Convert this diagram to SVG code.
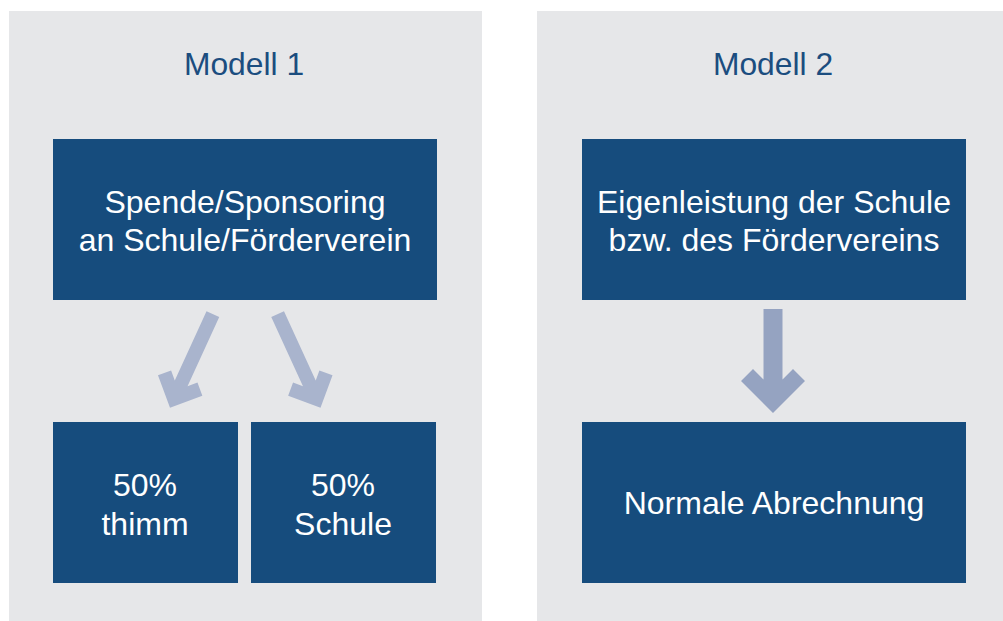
<svg xmlns="http://www.w3.org/2000/svg" width="1003" height="621" viewBox="0 0 1003 621">
<style>
.panel{fill:#e6e7e9}
.box{fill:#164c7d}
.title{font-family:"Liberation Sans",Arial,sans-serif;font-size:31.8px;fill:#1b4d7f;text-anchor:middle}
.lbl{font-family:"Liberation Sans",Arial,sans-serif;font-size:32px;fill:#ffffff;text-anchor:middle}
.arrowL{fill:#a9b4cd}
.arrowD{fill:#95a3c1}
</style>
<defs>
<polygon id="diag" points="-7,-103 7,-103 7,-26.8 14.5,-34.3 24.4,-24.4 0,0 -24.4,-24.4 -14.5,-34.3 -7,-26.8"/>
</defs>
<rect width="1003" height="621" fill="#ffffff"/>
<g id="panel1">
<rect class="panel" x="9" y="11" width="473" height="610"/>
<text class="title" x="244" y="75">Modell 1</text>
</g>
<g id="panel2">
<rect class="panel" x="537" y="11" width="466" height="610"/>
<text class="title" x="773" y="75">Modell 2</text>
</g>
<g id="node-spende">
<rect class="box" x="53" y="139" width="384" height="161"/>
<text class="lbl" x="245" y="213">Spende/Sponsoring</text>
<text class="lbl" x="245" y="251">an Schule/Förderverein</text>
</g>
<g id="node-thimm">
<rect class="box" x="53" y="422" width="185" height="161"/>
<text class="lbl" x="145" y="496">50%</text>
<text class="lbl" x="145" y="535">thimm</text>
</g>
<g id="node-schule">
<rect class="box" x="251" y="422" width="185" height="161"/>
<text class="lbl" x="343" y="496">50%</text>
<text class="lbl" x="343" y="535">Schule</text>
</g>
<g id="node-eigen">
<rect class="box" x="582" y="139" width="384" height="161"/>
<text class="lbl" x="774" y="213">Eigenleistung der Schule</text>
<text class="lbl" x="774" y="251">bzw. des Fördervereins</text>
</g>
<g id="node-normal">
<rect class="box" x="582" y="422" width="384" height="161"/>
<text class="lbl" x="774" y="514">Normale Abrechnung</text>
</g>
<g id="connectors">
<use href="#diag" class="arrowL" transform="translate(170,407.7) rotate(24.6)"/>
<use href="#diag" class="arrowL" transform="translate(320.5,407.7) rotate(-24.6)"/>
<polygon class="arrowD" points="763.5,309 782.5,309 782.5,379.5 793,369 805,381 773,413 741,381 753,369 763.5,379.5"/>
</g>
</svg>
